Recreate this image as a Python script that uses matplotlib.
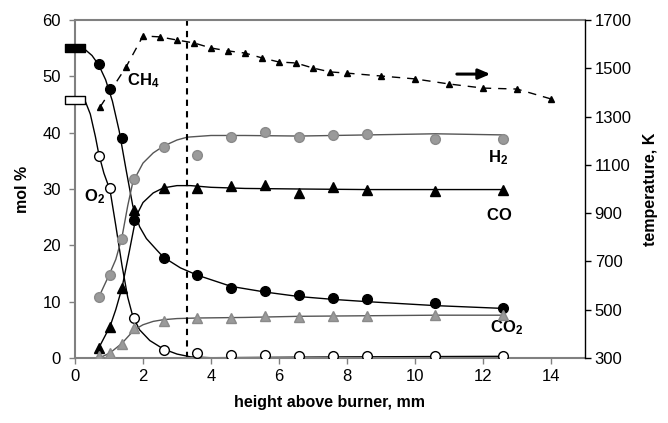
import matplotlib.pyplot as plt
from matplotlib.path import Path

plt.rcParams['font.family'] = ['Liberation Sans', 'DejaVu Sans']
plt.rcParams['mathtext.fontset'] = 'custom'
plt.rcParams['mathtext.rm'] = 'Liberation Sans'
plt.rcParams['mathtext.bf'] = 'Liberation Sans:bold'

# measured points (mol %), height above burner in mm
heights = [0.7, 1.03, 1.38, 1.74, 2.62, 3.6, 4.6, 5.6, 6.6, 7.6, 8.6, 10.6, 12.6]
ch4 = [52.2, 47.8, 39.0, 24.5, 17.7, 14.8, 12.4, 11.9, 11.1, 10.6, 10.5, 9.8, 8.8]
h2 = [10.8, 14.7, 21.1, 31.8, 37.4, 36.0, 39.3, 40.1, 39.2, 39.5, 39.7, 38.9, 38.9]
co = [1.8, 5.5, 12.4, 26.3, 30.2, 30.1, 30.5, 30.7, 29.3, 30.4, 29.8, 29.7, 29.8]
co2 = [0.3, 0.9, 2.5, 5.3, 6.6, 7.1, 7.1, 7.4, 7.3, 7.4, 7.4, 7.6, 7.6]
o2_heights = [0.7, 1.03, 1.74, 2.62, 3.6, 4.6, 5.6, 6.6, 7.6, 8.6, 10.6, 12.6]
o2 = [35.8, 30.2, 7.1, 1.5, 0.8, 0.6, 0.6, 0.4, 0.4, 0.4, 0.4, 0.4]

# inlet composition at the burner surface
inlet_ch4 = 55.0
inlet_o2 = 45.8

# temperature profile, K
t_heights = [0.74, 1.5, 2.0, 2.5, 3.0, 3.5, 4.0, 4.5, 5.0, 5.5, 6.0, 6.5, 7.0,
             7.5, 8.0, 9.0, 10.0, 11.0, 12.0, 13.0, 14.0]
temps = [1340, 1505, 1634, 1630, 1617, 1605, 1584, 1572, 1563, 1543, 1526, 1522,
         1501, 1485, 1480, 1468, 1456, 1435, 1418, 1414, 1373]

# model curves
ch4_fit_x = [0.25, 0.5, 0.7, 0.9, 1.1, 1.3, 1.5, 1.7, 1.9, 2.1, 2.4, 2.6, 3.1,
             3.6, 4.6, 5.6, 6.6, 7.6, 8.6, 10.6, 12.6]
ch4_fit_y = [55.0, 53.7, 52.0, 49.4, 45.6, 40.3, 33.5, 27.0, 23.3, 21.2, 19.2,
             17.9, 16.0, 14.7, 12.7, 11.7, 10.9, 10.4, 10.0, 9.3, 8.8]
o2_fit_x = [0.3, 0.45, 0.6, 0.7, 0.85, 1.03, 1.2, 1.38, 1.55, 1.7, 1.9, 2.2,
            2.6, 3.0, 3.4, 4.0, 8.0, 12.6]
o2_fit_y = [45.6, 43.3, 39.3, 36.2, 32.8, 29.8, 23.5, 16.5, 10.8, 7.4, 5.0, 3.1,
            1.6, 0.7, 0.2, 0.05, 0.2, 0.3]
h2_fit_x = [0.7, 1.0, 1.2, 1.38, 1.55, 1.7, 2.0, 2.3, 2.6, 3.0, 3.3, 4.0, 5.0,
            6.6, 8.6, 10.6, 12.6]
h2_fit_y = [10.8, 14.7, 17.5, 21.4, 27.0, 31.2, 34.6, 36.4, 37.6, 38.7, 39.2,
            39.5, 39.5, 39.4, 39.6, 39.8, 39.6]
co_fit_x = [0.7, 1.03, 1.2, 1.38, 1.6, 1.8, 2.0, 2.3, 2.6, 3.0, 3.4, 4.0, 5.0,
            6.6, 8.6, 12.6]
co_fit_y = [1.8, 5.6, 8.6, 12.4, 19.0, 25.2, 27.6, 29.3, 30.2, 30.6, 30.6,
            30.3, 30.1, 30.0, 29.9, 29.9]
co2_fit_x = [0.75, 1.03, 1.38, 1.74, 2.0, 2.3, 2.6, 3.0, 3.6, 5.0, 6.6, 8.6,
             10.6, 12.6]
co2_fit_y = [0.1, 0.9, 2.6, 5.0, 5.9, 6.5, 6.8, 7.0, 7.1, 7.2, 7.4, 7.5, 7.6, 7.6]

flame_edge = 3.3

grey = '#9a9a9a'
bar_marker = Path([(-1, -0.38), (1, -0.38), (1, 0.38), (-1, 0.38), (-1, -0.38)],
                  [Path.MOVETO, Path.LINETO, Path.LINETO, Path.LINETO, Path.CLOSEPOLY])

fig = plt.figure(figsize=(6.68, 4.23), dpi=100)
ax = fig.add_axes([75 / 668, 1 - 358 / 423, 510 / 668, 338 / 423])
ax2 = ax.twinx()

# temperature on the right axis
ax2.plot(t_heights, temps, color='black', lw=1, ls=(0, (6, 5)),
         marker='^', ms=4.5, zorder=3)
ax2.annotate('', xy=(12.3, 1476), xytext=(11.15, 1476),
             arrowprops=dict(arrowstyle='-|>,head_length=0.7,head_width=0.3',
                             color='black', lw=2.2))
ax2.set_ylim(300, 1700)
ax2.set_yticks(range(300, 1701, 200))

# fitted curves
ax.plot(ch4_fit_x, ch4_fit_y, color='black', lw=1)
ax.plot(o2_fit_x, o2_fit_y, color='black', lw=1)
ax.plot(h2_fit_x, h2_fit_y, color='#555555', lw=1)
ax.plot(co_fit_x, co_fit_y, color='black', lw=1)
ax.plot(co2_fit_x, co2_fit_y, color='#555555', lw=1)

# measured points
ax.plot(heights, ch4, 'o', color='black', ms=7, zorder=4)
ax.plot(o2_heights, o2, 'o', mfc='white', mec='black', mew=1, ms=7, zorder=4)
ax.plot(heights, h2, 'o', mfc=grey, mec='#8a8a8a', ms=7, zorder=4)
ax.plot(heights, co, '^', color='black', ms=7, zorder=4)
ax.plot(heights, co2, '^', mfc=grey, mec='#8a8a8a', ms=7, zorder=4)
ax.plot([0], [inlet_ch4], marker=bar_marker, ms=15, color='black',
        clip_on=False, zorder=5)
ax.plot([0], [inlet_o2], marker=bar_marker, ms=15, mfc='white', mec='black',
        mew=1, clip_on=False, zorder=5)

ax.axvline(flame_edge, color='black', lw=1.5, ls=(0, (3, 2.5)))

# species labels
lab = dict(fontsize=12, color='black', va='center', ha='left')
ax.text(1.53, 49.3, r'$\mathbf{CH_4}$', **lab)
ax.text(0.25, 28.6, r'$\mathbf{O_2}$', **lab)
ax.text(12.15, 35.6, r'$\mathbf{H_2}$', **lab)
ax.text(12.1, 25.4, r'$\mathbf{CO}$', **lab)
ax.text(12.2, 5.3, r'$\mathbf{CO_2}$', **lab)

ax.set_xlim(0, 15)
ax.set_ylim(0, 60)
ax.set_xticks(range(0, 15, 2))
ax.set_yticks(range(0, 61, 10))
ax.set_xlabel('height above burner, mm', fontsize=11.5, fontweight='bold', labelpad=8)
ax.set_ylabel('mol %', fontsize=11.5, fontweight='bold', labelpad=9)
ax2.set_ylabel('temperature, K', fontsize=11.5, fontweight='bold', labelpad=8)

for side in ['left', 'top', 'bottom']:
    ax2.spines[side].set_visible(False)
    ax.spines[side].set_color('#808080')
    ax.spines[side].set_linewidth(1.5)
ax.spines['right'].set_visible(False)
ax2.spines['right'].set_color('black')
ax2.spines['right'].set_linewidth(1)

ax.tick_params(axis='both', labelsize=12, length=4, width=1, color='#808080', pad=4)
ax.tick_params(axis='y', pad=6)
ax2.tick_params(axis='y', labelsize=12, length=4, width=1, color='black', pad=3)

fig.savefig('out.png', dpi=100)
